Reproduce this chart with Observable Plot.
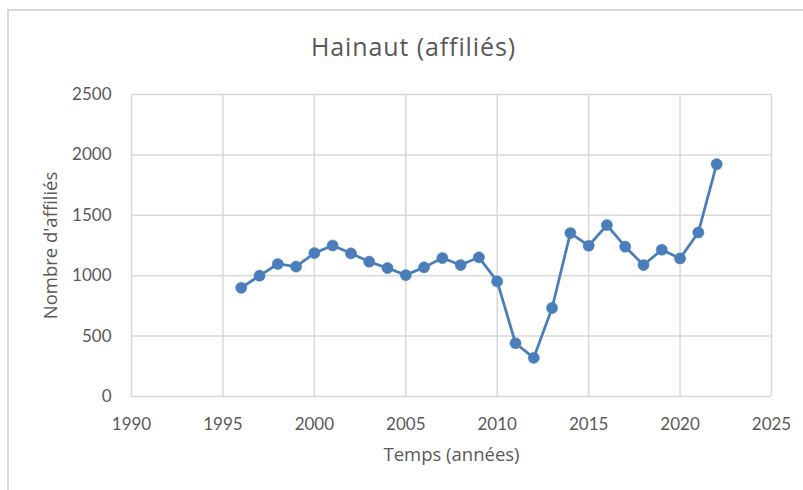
<!DOCTYPE html>
<html>
<head>
<meta charset="utf-8">
<script src="https://cdn.jsdelivr.net/npm/d3@7"></script>
<script src="https://cdn.jsdelivr.net/npm/@observablehq/plot@0.6"></script>
<style>
  body { margin: 0; background: #fff; font-family: Lato, "Open Sans", sans-serif; }
  #wrap { position: relative; width: 803px; height: 490px; overflow: hidden; }
  #border { position: absolute; left: 7px; top: 9px; width: 900px; height: 600px;
            border-left: 2px solid #d9d9d9; border-top: 2px solid #d9d9d9; }
  #title { position: absolute; left: 0; width: 827px; top: 31px; text-align: center;
           font-family: "Open Sans", sans-serif; font-size: 25px; letter-spacing: 0.9px;
           line-height: 30px; color: #595959; }
  #chart { position: absolute; left: 0; top: 80px; }
  #chart svg g[aria-label="x-axis label"] text,
  #chart svg g[aria-label="y-axis label"] text { font-family: "Open Sans", sans-serif; font-size: 18.5px; }
</style>
</head>
<body>
<div id="wrap">
  <div id="border"></div>
  <div id="title">Hainaut (affiliés)</div>
  <div id="chart"></div>
</div>
<script>
const years = [1996, 1997, 1998, 1999, 2000, 2001, 2002, 2003, 2004, 2005, 2006, 2007, 2008, 2009,
               2010, 2011, 2012, 2013, 2014, 2015, 2016, 2017, 2018, 2019, 2020, 2021, 2022];
const affilies = [900, 1000, 1097, 1075, 1187, 1250, 1185, 1116, 1063, 1005, 1069, 1146, 1088, 1152,
                  953, 441, 320, 733, 1353, 1248, 1419, 1240, 1088, 1215, 1143, 1358, 1923];
const xTicks = [1990, 1995, 2000, 2005, 2010, 2015, 2020, 2025];
const yTicks = [0, 500, 1000, 1500, 2000, 2500];
const xLabel = "Temps (années)";
const yLabel = "Nombre d'affiliés";

const data = years.map((y, i) => ({year: y, value: affilies[i]}));
const lineColor = "#4a7ebb";

const chart = Plot.plot({
  width: 803,
  height: 410,
  marginLeft: 131,
  marginRight: 32,
  marginTop: 14,
  marginBottom: 94,
  style: {fontFamily: "Lato, 'Open Sans', sans-serif", fontSize: "17px", color: "#595959", background: "transparent"},
  x: {domain: [1990, 2025], ticks: xTicks, tickFormat: d => String(d), label: xLabel,
      labelAnchor: "center", labelArrow: "none", tickSize: 0, tickPadding: 21, labelOffset: 64},
  y: {domain: [0, 2500], ticks: yTicks, tickFormat: d => String(d), label: yLabel,
      labelAnchor: "center", labelArrow: "none", tickSize: 0, tickPadding: 20, labelOffset: 88},
  marks: [
    Plot.ruleX(xTicks, {stroke: "#d9d9d9", strokeWidth: 1.5, strokeOpacity: 1}),
    Plot.ruleY(yTicks, {stroke: "#d9d9d9", strokeWidth: 1.5, strokeOpacity: 1}),
    Plot.line(data, {x: "year", y: "value", stroke: lineColor, strokeWidth: 2.75}),
    Plot.dot(data, {x: "year", y: "value", r: 5.6, fill: lineColor, stroke: lineColor, strokeWidth: 0.5})
  ]
});
document.getElementById("chart").appendChild(chart);
</script>
</body>
</html>
